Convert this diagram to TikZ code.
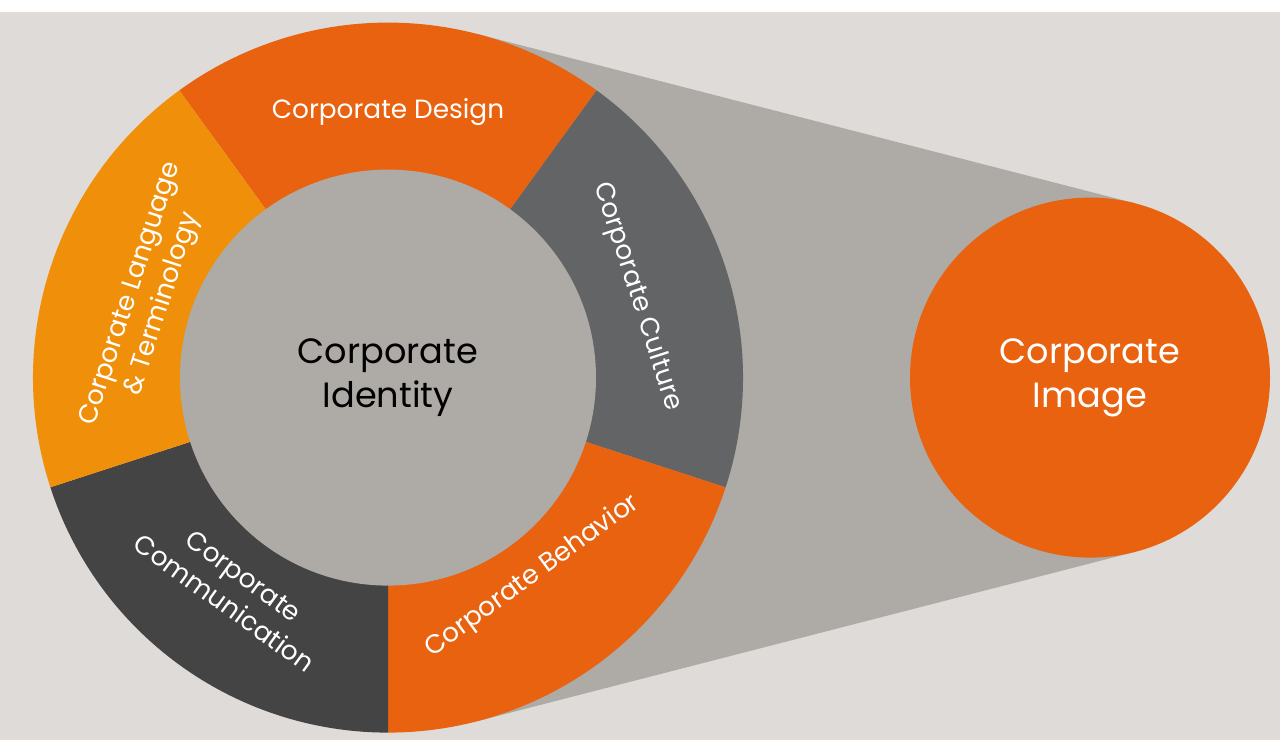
\documentclass[tikz,border=0pt]{standalone}
\usepackage{fontspec}
\setmainfont{Poppins}
\usetikzlibrary{calc}
\definecolor{bgcol}{HTML}{DEDBD8}
\definecolor{funnel}{HTML}{AEAAA6}
\definecolor{orangec}{HTML}{E8620F}
\definecolor{amberc}{HTML}{F0900A}
\definecolor{culturec}{HTML}{626466}
\definecolor{commc}{HTML}{444444}
\begin{document}
\begin{tikzpicture}[x=0.02cm, y=0.02cm,
		circ_style/.style={circle,inner sep=0pt,align=center,font=\fontsize{20}{25}\selectfont},
		ring_label/.style={text=white,align=center,inner sep=0pt,font=\fontsize{15}{19}\selectfont}]
		
		% background and funnel
		\fill[bgcol] (-388,-362) rectangle (892,366);
		\coordinate (t1) at (75.6:355);
		\coordinate (t2) at (-75.6:355);
		\coordinate (t3) at ($(702,0)+(75.6:180)$);
		\coordinate (t4) at ($(702,0)+(-75.6:180)$);
		\fill[funnel] (t1) -- (t3) -- (t4) -- (t2) -- cycle;
		
		% ring segments
		\foreach \a/\c in {126/orangec, 54/culturec, -18/orangec, -90/commc, -162/amberc}
			\fill[\c] (0,0) -- (\a:355) arc[start angle=\a, end angle=\a-72, radius=355] -- cycle;
		
		\node[circ_style, fill=funnel, minimum size=416*0.02cm, text=black] (identity) at (0,0) {Corporate\\Identity};
		\node[circ_style, fill=orangec, minimum size=360*0.02cm, text=white] (image) at (702,0) {Corporate\\Image};
		
		% labels on the ring
		\node[ring_label, rotate=0] (design) at (90:266) {Corporate Design};
		\node[ring_label, rotate=-72] (culture) at (18:262) {Corporate Culture};
		\node[ring_label, rotate=36] (behavior) at (-54:246) {Corporate Behavior};
		\node[ring_label, rotate=72] (language) at (162:253) {Corporate Language\\\& Terminology};
		\node[ring_label, rotate=-36] (communication) at (234:262) {Corporate\\Communication};
		
\end{tikzpicture}
\end{document}
